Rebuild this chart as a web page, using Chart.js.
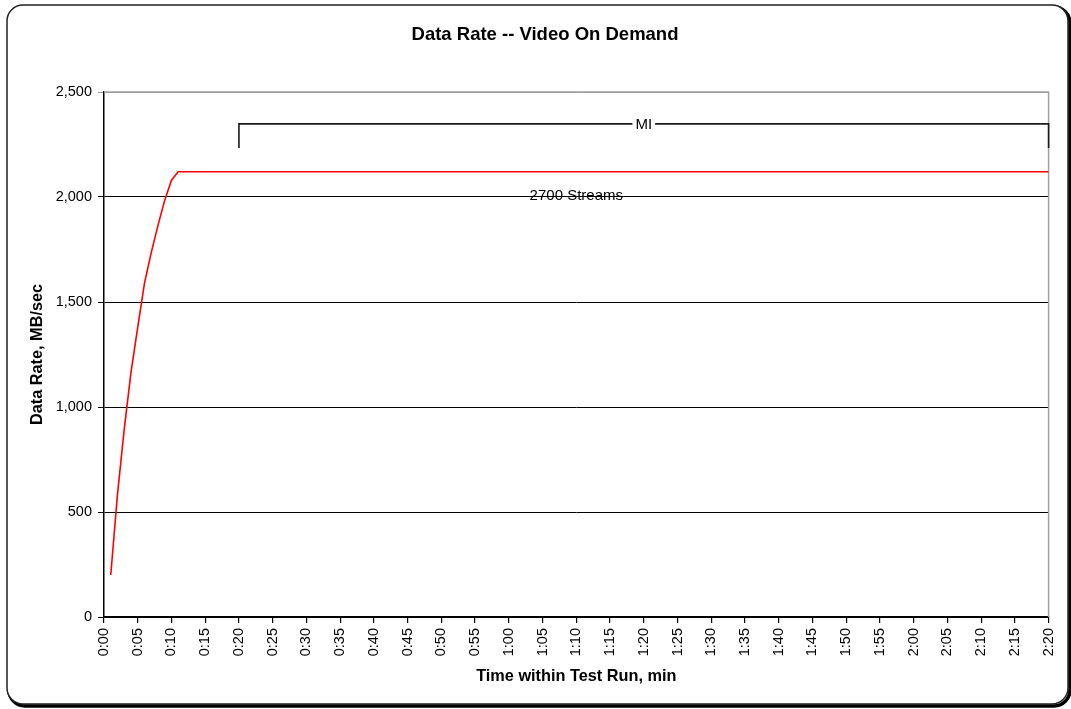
<!DOCTYPE html>
<html>
<head>
<meta charset="utf-8">
<script src="https://cdn.jsdelivr.net/npm/chart.js@4/dist/chart.umd.min.js"></script>
<style>
  html, body { margin: 0; padding: 0; background: #ffffff; }
  canvas { display: block; }
</style>
</head>
<body>
<canvas id="c" width="1071" height="709"></canvas>
<script>
// ---- Data (time in seconds within the test run; rate in MB/sec) ----
const rampTimes  = [1, 2, 3, 4, 5, 6, 7, 8, 9, 10, 11, 140];
const rampValues = [200, 585, 895, 1165, 1380, 1590, 1735, 1865, 1985, 2080, 2120, 2120];

// Measurement interval bracket (start/end time, bracket bottom & top values)
const miTimes  = [20, 20, 140, 140];
const miValues = [2233, 2348, 2348, 2233];
const miLabel = 'MI';
const streamsLabel = '2700 Streams';
const streamsAt = { x: 70, y: 2005 };

const chartTitle = 'Data Rate -- Video On Demand';
const xTitle = 'Time within Test Run, min';
const yTitle = 'Data Rate, MB/sec';
const xMin = 0, xMax = 140, xStep = 5;
const yMin = 0, yMax = 2500, yStep = 500;

const FONT = "'Liberation Sans', Arial, Helvetica, sans-serif";

function fmtTime(v) {
  const m = Math.floor(v / 60);
  const s = Math.round(v - m * 60);
  return m + ':' + (s < 10 ? '0' : '') + s;
}

const framePlugin = {
  id: 'frame',
  beforeDraw(chart) {
    const ctx = chart.ctx;
    const x = 7, y = 5, w = 1061, h = 699, r = 16;
    function rr(ox, oy) {
      ctx.beginPath();
      ctx.moveTo(x + ox + r, y + oy);
      ctx.lineTo(x + ox + w - r, y + oy);
      ctx.arcTo(x + ox + w, y + oy, x + ox + w, y + oy + r, r);
      ctx.lineTo(x + ox + w, y + oy + h - r);
      ctx.arcTo(x + ox + w, y + oy + h, x + ox + w - r, y + oy + h, r);
      ctx.lineTo(x + ox + r, y + oy + h);
      ctx.arcTo(x + ox, y + oy + h, x + ox, y + oy + h - r, r);
      ctx.lineTo(x + ox, y + oy + r);
      ctx.arcTo(x + ox, y + oy, x + ox + r, y + oy, r);
      ctx.closePath();
    }
    ctx.save();
    ctx.fillStyle = '#ffffff';
    ctx.fillRect(0, 0, chart.width, chart.height);
    rr(2, 2);
    ctx.lineWidth = 3.5;
    ctx.strokeStyle = '#000000';
    ctx.stroke();
    rr(0, 0);
    ctx.fillStyle = '#ffffff';
    ctx.fill();
    ctx.lineWidth = 1.5;
    ctx.strokeStyle = '#222222';
    ctx.stroke();
    // Title
    ctx.fillStyle = '#000000';
    ctx.font = 'bold 18.5px ' + FONT;
    ctx.textAlign = 'center';
    ctx.textBaseline = 'middle';
    ctx.fillText(chartTitle, 545, 35);
    ctx.restore();
  },
  beforeDatasetsDraw(chart) {
    const { ctx, chartArea: a } = chart;
    ctx.save();
    ctx.strokeStyle = '#a0a0a0';
    ctx.lineWidth = 1.5;
    ctx.beginPath();
    ctx.moveTo(a.left, a.top);
    ctx.lineTo(a.right, a.top);
    ctx.lineTo(a.right, a.bottom);
    ctx.stroke();
    ctx.restore();
  },
  afterDatasetsDraw(chart) {
    const { ctx, scales } = chart;
    const xs = scales.x, ys = scales.y;
    ctx.save();
    ctx.font = '15px ' + FONT;
    ctx.textAlign = 'center';
    ctx.textBaseline = 'middle';
    // MI label with white gap
    const mx = xs.getPixelForValue((miTimes[1] + miTimes[2]) / 2);
    const my = ys.getPixelForValue(miValues[1]);
    const tw = ctx.measureText(miLabel).width;
    ctx.fillStyle = '#ffffff';
    ctx.fillRect(mx - tw / 2 - 3, my - 4, tw + 6, 8);
    ctx.fillStyle = '#000000';
    ctx.fillText(miLabel, mx, my + 1);
    // Streams label
    ctx.fillText(streamsLabel, xs.getPixelForValue(streamsAt.x), ys.getPixelForValue(streamsAt.y));
    ctx.restore();
  }
};

new Chart(document.getElementById('c'), {
  type: 'line',
  data: {
    datasets: [
      {
        label: 'Data Rate',
        data: rampTimes.map((t, i) => ({ x: t, y: rampValues[i] })),
        borderColor: '#ff0000',
        borderWidth: 1.6,
        pointRadius: 0,
        tension: 0,
        fill: false
      },
      {
        label: 'MI',
        data: miTimes.map((t, i) => ({ x: t, y: miValues[i] })),
        borderColor: '#1a1a1a',
        borderWidth: 1.6,
        pointRadius: 0,
        tension: 0,
        fill: false,
        clip: false
      }
    ]
  },
  options: {
    responsive: false,
    devicePixelRatio: 1,
    animation: false,
    events: [],
    layout: { padding: { left: 10, right: 21, top: 92, bottom: 12 } },
    plugins: {
      legend: { display: false },
      title: { display: false },
      tooltip: { enabled: false }
    },
    scales: {
      x: {
        type: 'linear',
        min: xMin, max: xMax,
        afterFit(s) { s.height = 80; },
        border: { display: true, color: '#000000', width: 1.5 },
        grid: { drawOnChartArea: false, drawTicks: true, tickLength: 6, color: '#000000', lineWidth: 1.2 },
        ticks: {
          stepSize: xStep,
          autoSkip: false,
          minRotation: 90, maxRotation: 90,
          padding: 5,
          color: '#000000',
          font: { family: FONT, size: 14.5 },
          callback: (v) => fmtTime(v)
        },
        title: {
          display: true,
          text: xTitle,
          color: '#000000',
          font: { family: FONT, size: 16.3, weight: 'bold' },
          padding: { top: 0, bottom: 11 }
        }
      },
      y: {
        type: 'linear',
        min: yMin, max: yMax,
        afterFit(s) { s.width = 94; },
        border: { display: true, color: '#000000', width: 1.5 },
        grid: {
          drawOnChartArea: true, drawTicks: true, tickLength: 6,
          color: (c) => (c.tick && c.tick.value === yMax ? '#a0a0a0' : '#000000'),
          lineWidth: 1
        },
        ticks: {
          stepSize: yStep,
          padding: 6,
          color: '#000000',
          font: { family: FONT, size: 14.5 },
          callback: (v) => v.toLocaleString('en-US')
        },
        title: {
          display: true,
          text: yTitle,
          color: '#000000',
          font: { family: FONT, size: 16.3, weight: 'bold' },
          padding: { top: 18, bottom: 0 }
        }
      }
    }
  },
  plugins: [framePlugin]
});
</script>
</body>
</html>
